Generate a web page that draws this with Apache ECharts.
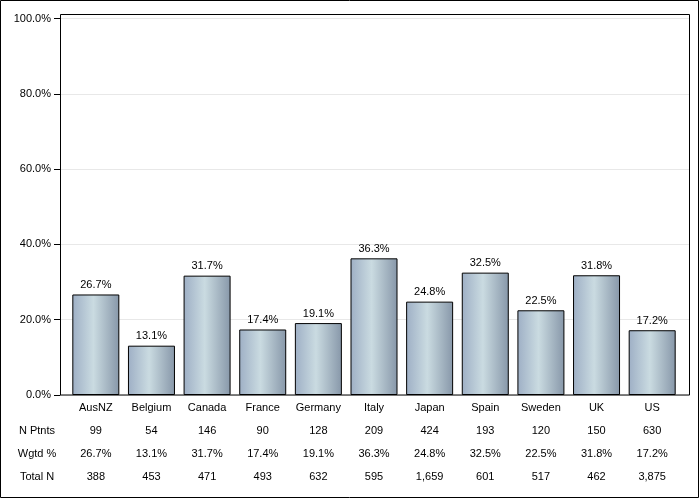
<!DOCTYPE html>
<html><head><meta charset="utf-8">
<script src="https://cdn.jsdelivr.net/npm/echarts@6/dist/echarts.min.js"></script>
<style>html,body{margin:0;padding:0;background:#fff}#c{width:700px;height:500px}</style>
</head><body><div id="c"></div>
<script>
var categories = ['AusNZ','Belgium','Canada','France','Germany','Italy','Japan','Spain','Sweden','UK','US'];
var values = [26.7,13.1,31.7,17.4,19.1,36.3,24.8,32.5,22.5,31.8,17.2];
var nPtnts = ['99','54','146','90','128','209','424','193','120','150','630'];
var wgtd = ['26.7%','13.1%','31.7%','17.4%','19.1%','36.3%','24.8%','32.5%','22.5%','31.8%','17.2%'];
var totalN = ['388','453','471','493','632','595','1,659','601','517','462','3,875'];
var rowLabels = ['N Ptnts','Wgtd %','Total N'];

var FONT = 'Liberation Sans, Arial, sans-serif';
var chart = echarts.init(document.getElementById('c'));
var labelText = {};
categories.forEach(function(c,i){ labelText[c] = c + '\n\n' + nPtnts[i] + '\n\n' + wgtd[i] + '\n\n' + totalN[i]; });

var graphics = [
  {type:'rect', shape:{x:0.5,y:0.5,width:698,height:497}, style:{fill:null,stroke:'#000',lineWidth:1}, z:-1},
  {type:'rect', shape:{x:60.5,y:14.5,width:629,height:380.5}, style:{fill:null,stroke:'#000',lineWidth:1}, z:10}
];
rowLabels.forEach(function(t,i){
  graphics.push({type:'text', x:37, y:430.5 + i*23.2, style:{text:t, font:'11px ' + FONT, fill:'#000', textAlign:'center', textVerticalAlign:'middle'}});
});

chart.setOption({
  animation:false,
  grid:[
    {left:60, right:10, top:18.5, bottom:105},
    {left:68, right:20, top:18.5, bottom:105}
  ],
  xAxis:[
    {gridIndex:0, type:'category', data:categories, show:false},
    {gridIndex:1, type:'category', data:categories,
     axisLine:{show:false}, axisTick:{show:false},
     axisLabel:{interval:0, margin:7, fontFamily:FONT, fontSize:11, color:'#000', lineHeight:11.6,
       formatter:function(v){ return labelText[v]; }}}
  ],
  yAxis:[
    {gridIndex:0, type:'value', min:0, max:100, interval:20,
     axisLine:{show:true, lineStyle:{color:'#000'}},
     axisTick:{show:true, inside:false, length:6, lineStyle:{color:'#000'}},
     axisLabel:{fontFamily:FONT, fontSize:11, color:'#000', margin:9,
       formatter:function(v){ return v.toFixed(1) + '%'; }},
     splitLine:{show:true, lineStyle:{color:'#e8e8e8'}}},
    {gridIndex:1, type:'value', min:0, max:100, show:false}
  ],
  series:[{
    type:'bar', xAxisIndex:1, yAxisIndex:1, data:values, barWidth:47,
    itemStyle:{
      borderColor:'#000', borderWidth:1,
      color:new echarts.graphic.LinearGradient(0,0,1,0,[
        {offset:0,color:'#9eafc5'},
        {offset:0.45,color:'#cadbe1'},
        {offset:1,color:'#8797a9'}
      ])
    },
    label:{show:true, position:'top', distance:4, fontFamily:FONT, fontSize:11, color:'#000',
      formatter:function(p){ return p.value.toFixed(1) + '%'; }}
  }],
  graphic:graphics
});
</script></body></html>
